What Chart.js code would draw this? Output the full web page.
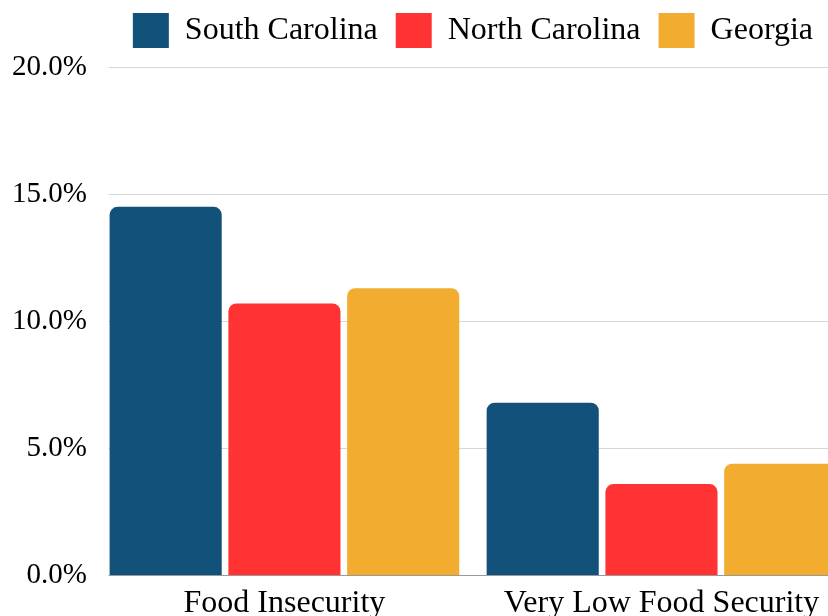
<!DOCTYPE html>
<html>
<head>
<meta charset="utf-8">
<script src="https://cdn.jsdelivr.net/npm/chart.js@4.4.0/dist/chart.umd.min.js"></script>
<style>
  body { margin: 0; overflow: hidden; background: #fff; }
  #wrap { width: 850px; height: 624px; }
</style>
</head>
<body>
<div id="wrap"><canvas id="foodChart"></canvas></div>
<script>
"use strict";

// categories and series
const categories = ["Food Insecurity", "Very Low Food Security"];
const southCarolina = [14.5, 6.8];
const northCarolina = [10.7, 3.6];
const georgia = [11.3, 4.4];
const yTicks = [0, 5, 10, 15, 20];

const serif = "'Liberation Serif', serif";

const ctx = document.getElementById("foodChart").getContext("2d");

let info =
  {
  labels: categories,
  datasets:
    [
    { label: "South Carolina", data: southCarolina, backgroundColor: "#12527a" },
    { label: "North Carolina", data: northCarolina, backgroundColor: "#ff3334" },
    { label: "Georgia", data: georgia, backgroundColor: "#f2ac30" }
  ]
}

info.datasets.forEach(function (d) {
  d.borderRadius = 8;
  d.borderSkipped = "start";
  d.categoryPercentage = 0.945;
  d.barPercentage = 0.944;
});

// a bit more room between the legend and the plot
let legendGap =
  {
  id: "legendGap",
  beforeInit: function (chart) {
    const fit = chart.legend.fit;
    chart.legend.fit = function () {
      fit.bind(chart.legend)();
      this.height += 9;
    };
  }
};

// gridlines and axis line start where the first bar starts, like the original
let gridStart =
  {
  id: "gridStart",
  afterDraw: function (chart) {
    const bar = chart.getDatasetMeta(0).data[0];
    if (!bar) return;
    const area = chart.chartArea;
    const c = chart.ctx;
    c.save();
    c.fillStyle = "#fff";
    c.fillRect(area.left - 1, area.top - 2, bar.x - bar.width / 2 - area.left, area.bottom - area.top + 4);
    c.restore();
  }
};

let config =
  {
  type: "bar",
  data: info,
  plugins: [legendGap, gridStart],
  options:
    {
    responsive: true,
    maintainAspectRatio: false,
    animation: false,
    layout: { padding: { left: 3, top: -5, right: 0, bottom: 0 } },
    plugins:
      {
      legend:
        {
        fullSize: false,
        labels:
          {
          boxWidth: 36,
          boxHeight: 35,
          padding: 18,
          color: "#000",
          font: { family: serif, size: 32 }
        }
      },
      tooltip: { enabled: false }
    },
    scales:
      {
      x:
        {
        grid: { display: false },
        border: { display: true, color: "#999" },
        ticks: { color: "#000", padding: 1, font: { family: serif, size: 32 } }
      },
      y:
        {
        min: 0,
        max: 20,
        afterBuildTicks: function (axis) {
          axis.ticks = yTicks.map(function (v) { return { value: v }; });
        },
        grid: { color: "#d6d6d6", drawTicks: false },
        border: { display: false },
        ticks:
          {
          color: "#000",
          padding: 9,
          font: { family: serif, size: 29 },
          callback: function (value) { return value.toFixed(1) + "%"; }
        }
      }
    }
  }
};

const foodChart = new Chart(ctx, config);
</script>
</body>
</html>
